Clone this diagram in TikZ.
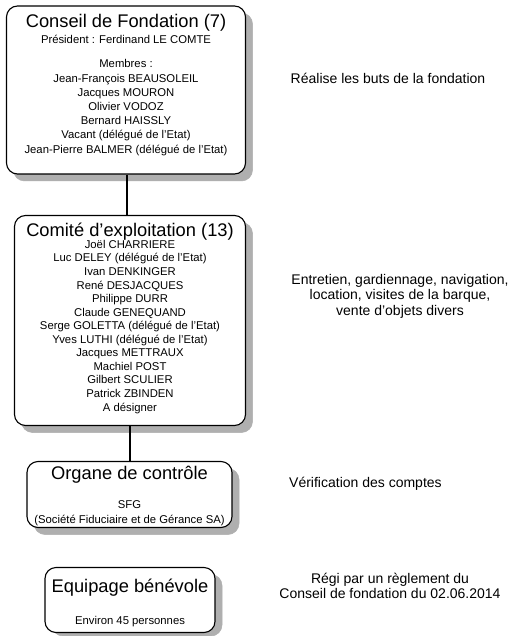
\documentclass[tikz,border=0pt]{standalone}
\usepackage{fontspec}
\setmainfont{Liberation Sans}
\definecolor{shadowgray}{RGB}{175,175,175}
\tikzset{
  box/.style={draw=black, line width=1.1pt, rounded corners=11pt, fill=white, inner sep=0pt},
  shadowbox/.style={fill=shadowgray, draw=shadowgray, line width=0.5pt, rounded corners=11pt},
  ttl/.style={anchor=base, inner sep=0pt, font=\fontsize{18.3}{20}\selectfont},
  txt/.style={anchor=base, inner sep=0pt, align=center, font=\fontsize{11.3}{14.2}\selectfont},
  side/.style={anchor=base, inner sep=0pt, align=center, font=\fontsize{14}{15.8}\selectfont},
  conn/.style={draw=black, line width=1.1pt}
}
\begin{document}
\begin{tikzpicture}[x=1pt,y=-1pt]
\fill[white] (0,0) rectangle (512,636);
\useasboundingbox (0,0) rectangle (512,636);
% shadows
\path[shadowbox] (13.5,13) rectangle (252.5,181);
\path[shadowbox] (21.5,222.5) rectangle (252.5,432.5);
\path[shadowbox] (34,468.5) rectangle (239,534.5);
\path[shadowbox] (52,574.5) rectangle (222,636);
% boxes
\node[box, minimum width=239pt, minimum height=168pt] (b1) at (126,90) {};
\node[box, minimum width=231pt, minimum height=210pt] (b2) at (130,320.5) {};
\node[box, minimum width=205pt, minimum height=66pt] (b3) at (129.5,494.5) {};
\node[box, minimum width=170pt, minimum height=65pt] (b4) at (130,600) {};
% connectors
\coordinate (c1) at (127,0);
\coordinate (c2) at (130,0);
\draw[conn] (b1.south -| c1) -- (b2.north -| c1);
\draw[conn] (b2.south -| c2) -- (b3.north -| c2);
% box 1 text
\node[ttl] (t1) at (126,28) {Conseil de Fondation (7)};
\node[txt] (p1) at (126,44) {Président : Ferdinand LE COMTE};
\node[txt] (m1) at (126,153.2) {Membres :\\Jean-François BEAUSOLEIL\\Jacques MOURON\\Olivier VODOZ\\Bernard HAISSLY\\Vacant (délégué de l'Etat)\\Jean-Pierre BALMER (délégué de l'Etat)};
% box 2 text
\node[ttl] (t2) at (130,236) {Comité d’exploitation (13)};
\node[txt, font=\fontsize{11.3}{13.55}\selectfont] (m2) at (130,411) {Joël CHARRIERE\\Luc DELEY (délégué de l'Etat)\\Ivan DENKINGER\\René DESJACQUES\\Philippe DURR\\Claude GENEQUAND\\Serge GOLETTA (délégué de l'Etat)\\Yves LUTHI (délégué de l'Etat)\\Jacques METTRAUX\\Machiel POST\\Gilbert SCULIER\\Patrick ZBINDEN\\A désigner};
% box 3 text
\node[ttl] (t3) at (129.5,479) {Organe de contrôle};
\node[txt, font=\fontsize{11.3}{15}\selectfont] (m3) at (129.5,523) {SFG\\(Société Fiduciaire et de Gérance SA)};
% box 4 text
\node[ttl] (t4) at (130,592) {Equipage bénévole};
\node[txt] (m4) at (130,624) {Environ 45 personnes};
% side texts
\node[side] (s1) at (388,84) {Réalise les buts de la fondation};
\node[side] (s2) at (400,315.6) {Entretien, gardiennage, navigation,\\location, visites de la barque,\\vente d'objets divers};
\node[side, anchor=base west] (s3) at (289,487) {Vérification des comptes};
\node[side, font=\fontsize{14}{15}\selectfont] (s4) at (390,598) {Régi par un règlement du\\Conseil de fondation du 02.06.2014};
\end{tikzpicture}
\end{document}
